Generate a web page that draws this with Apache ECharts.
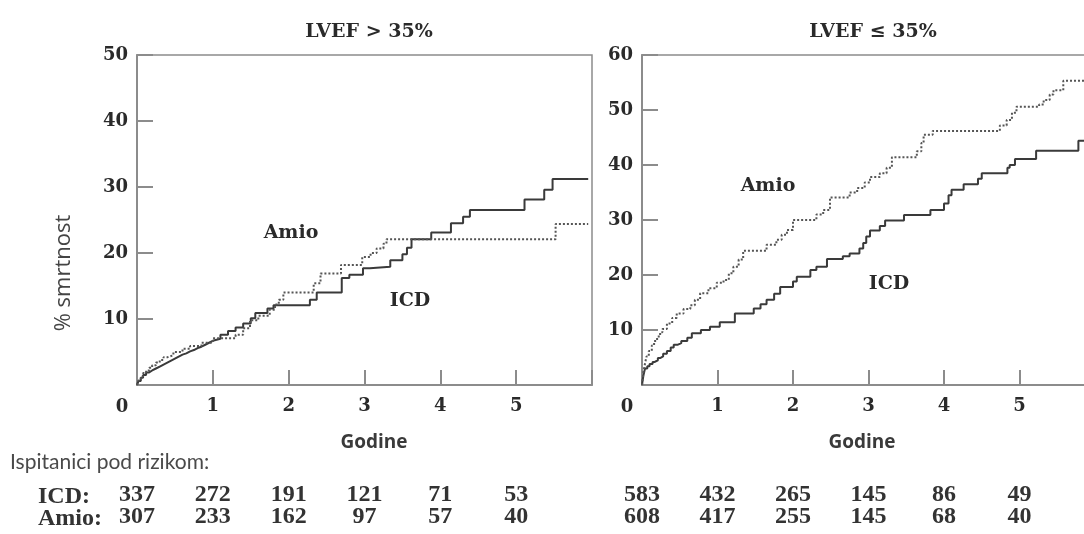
<!DOCTYPE html>
<html><head><meta charset="utf-8">
<script src="https://cdn.jsdelivr.net/npm/echarts@6/dist/echarts.min.js"></script>
<style>html,body{margin:0;padding:0;background:#fff}#c{width:1084px;height:534px}</style>
</head><body><div id="c"></div>
<script>
// ---- data ----
const panelTitles = ['LVEF > 35%', 'LVEF \u2264 35%'];
const yMaxLeft = 50, yMaxRight = 60;
const xYears = [0, 1, 2, 3, 4, 5, 6];
const riskLabel = 'Ispitanici pod rizikom:';
const rowNames = ['ICD:', 'Amio:'];
const riskIcdLeft = [337, 272, 191, 121, 71, 53];
const riskAmioLeft = [307, 233, 162, 97, 57, 40];
const riskIcdRight = [583, 432, 265, 145, 86, 49];
const riskAmioRight = [608, 417, 255, 145, 68, 40];

// Kaplan-Meier steps [years, % mortality]
const leftIcd = [[0,0],[0.02,0.6],[0.05,1.1],[0.08,1.5],[0.12,1.9],[0.16,2.2],[0.2,2.5],[0.25,2.8],[0.3,3.1],[0.35,3.4],[0.4,3.7],[0.45,4.0],[0.5,4.3],[0.55,4.6],[0.6,4.8],[0.65,5.1],[0.7,5.3],[0.75,5.6],[0.8,5.8],[0.85,6.1],[0.9,6.4],[0.95,6.7],[1.0,7.0],[1.1,7.6],[1.2,8.2],[1.3,8.7],[1.4,9.3],[1.5,10.1],[1.56,10.9],[1.72,11.6],[1.8,12.1],[2.28,12.9],[2.37,14.0],[2.7,16.2],[2.8,16.7],[2.98,17.7],[3.07,17.9],[3.34,18.9],[3.5,19.8],[3.56,20.8],[3.62,22.1],[3.88,23.1],[4.14,24.5],[4.3,25.5],[4.39,26.5],[5.11,28.1],[5.37,29.6],[5.48,31.2],[5.95,31.2]];
const leftAmio = [[0,0],[0.02,0.7],[0.05,1.3],[0.08,1.8],[0.12,2.2],[0.16,2.6],[0.2,3.0],[0.25,3.4],[0.3,3.8],[0.35,4.2],[0.4,4.5],[0.48,5.0],[0.6,5.5],[0.7,5.9],[0.85,6.4],[1.0,7.1],[1.3,7.6],[1.4,8.6],[1.49,9.8],[1.6,10.5],[1.75,11.4],[1.82,12.2],[1.87,12.9],[1.93,14.0],[2.33,15.4],[2.42,16.9],[2.69,18.2],[2.97,19.4],[3.08,20.0],[3.16,20.7],[3.25,21.4],[3.29,22.1],[5.52,24.4],[5.95,24.4]];
const rightIcd = [[0,0],[0.01,1.0],[0.02,1.8],[0.04,3.0],[0.07,3.4],[0.1,3.8],[0.14,4.2],[0.17,4.5],[0.21,4.9],[0.24,5.2],[0.28,5.7],[0.33,6.2],[0.38,6.8],[0.42,7.3],[0.47,7.6],[0.52,8.0],[0.6,8.6],[0.66,9.4],[0.78,10.0],[0.9,10.6],[1.03,11.4],[1.23,13.0],[1.48,13.9],[1.57,14.7],[1.65,15.5],[1.75,16.6],[1.83,17.8],[2.0,18.8],[2.05,19.7],[2.23,20.9],[2.31,21.5],[2.45,22.9],[2.66,23.4],[2.75,23.9],[2.88,24.8],[2.93,25.8],[2.97,27.0],[3.02,28.1],[3.15,28.9],[3.22,29.9],[3.47,30.9],[3.82,31.8],[4.0,33.0],[4.06,34.5],[4.1,35.5],[4.26,36.5],[4.45,37.5],[4.5,38.5],[4.84,39.5],[4.87,40.0],[4.94,41.1],[5.22,42.6],[5.78,44.4],[5.9,44.4]];
const rightAmio = [[0,0],[0.01,1.2],[0.02,2.5],[0.04,3.9],[0.06,5.2],[0.09,6.2],[0.13,7.2],[0.16,8.0],[0.2,8.8],[0.24,9.6],[0.27,10.2],[0.33,11.2],[0.4,12.2],[0.46,13.0],[0.55,13.8],[0.64,14.5],[0.7,15.5],[0.77,16.7],[0.88,17.6],[0.99,18.6],[1.08,19.1],[1.15,20.3],[1.21,21.5],[1.28,22.8],[1.34,24.4],[1.65,25.5],[1.78,26.4],[1.85,27.3],[1.92,28.2],[2.0,30.0],[2.31,31.0],[2.4,31.8],[2.49,34.1],[2.75,35.0],[2.85,35.8],[2.95,36.8],[3.02,37.8],[3.15,38.5],[3.24,39.5],[3.31,41.4],[3.64,42.5],[3.7,44.0],[3.73,45.5],[3.85,46.2],[4.74,47.2],[4.83,48.2],[4.9,49.5],[4.96,50.6],[5.26,51.0],[5.32,51.8],[5.4,52.8],[5.45,53.6],[5.58,55.3],[5.9,55.3]];

// ---- chart ----
const chart = echarts.init(document.getElementById('c'), null, {renderer: 'canvas'});
const serif = 'DejaVu Serif';
const tickFont = {fontFamily: serif, fontWeight: 'bold', fontSize: 18, color: '#2a2a2a'};
const axisGray = '#8c8c8c';

function xAxisMain(grid) {
  return {
    type: 'value', gridIndex: grid, min: 0, max: 6, interval: 1,
    axisLine: {show: true, lineStyle: {color: axisGray, width: 2}},
    axisTick: {show: true, inside: true, length: 15, lineStyle: {color: axisGray, width: 2}},
    axisLabel: Object.assign({margin: 12, formatter: v => (v === 0 || v === 6) ? '' : String(v)}, tickFont),
    splitLine: {show: false}
  };
}
function xAxisRisk(grid, icd, amio) {
  return {
    type: 'value', gridIndex: grid, min: 0, max: 6, interval: 1, position: 'bottom', offset: 96,
    axisLine: {show: false}, axisTick: {show: false}, splitLine: {show: false},
    axisLabel: {margin: 3, fontFamily: 'Liberation Serif', fontWeight: 'bold', fontSize: 24, color: '#333', lineHeight: 22,
      formatter: v => (v < icd.length) ? icd[v] + '\n' + amio[v] : ''}
  };
}
function yAxis(grid, max) {
  return {
    type: 'value', gridIndex: grid, min: 0, max: max, interval: 10,
    axisLine: {show: true, lineStyle: {color: axisGray, width: 2}},
    axisTick: {show: true, inside: true, length: 16, lineStyle: {color: axisGray, width: 2}},
    axisLabel: Object.assign({margin: 9, formatter: v => v === 0 ? '' : String(v)}, tickFont),
    splitLine: {show: false}
  };
}
function km(name, data, xi, yi, dotted) {
  return {
    name, type: 'line', step: 'end', data, xAxisIndex: xi, yAxisIndex: yi,
    symbol: 'none', animation: false, silent: true,
    lineStyle: {color: dotted ? '#555' : '#3a3a3a', width: 2, type: dotted ? 'dotted' : 'solid'}
  };
}

const labelText = (x, y, text, style) => ({type: 'text', x, y, style: Object.assign({text, align: 'center', verticalAlign: 'middle'}, style)});
const curveLabel = {fontFamily: serif, fontWeight: 'bold', fontSize: 19, fill: '#2a2a2a'};
const godine = {fontFamily: 'Open Sans', fontWeight: 'bold', fontSize: 19, fill: '#3a3a3a'};
const gridBase = {show: true, borderColor: axisGray, borderWidth: 1.5, outerBoundsMode: 'none', containLabel: false};

chart.setOption({
  animation: false,
  backgroundColor: '#fff',
  grid: [
    Object.assign({left: 137, top: 55, width: 455, height: 330}, gridBase),
    Object.assign({left: 642, top: 55, width: 453, height: 330}, gridBase)
  ],
  title: [
    {text: panelTitles[0], left: 364, top: 18, textAlign: 'center', textStyle: {fontFamily: serif, fontWeight: 'bold', fontSize: 19, color: '#2a2a2a'}},
    {text: panelTitles[1], left: 868, top: 18, textAlign: 'center', textStyle: {fontFamily: serif, fontWeight: 'bold', fontSize: 19, color: '#2a2a2a'}}
  ],
  xAxis: [xAxisMain(0), xAxisMain(1), xAxisRisk(0, riskIcdLeft, riskAmioLeft), xAxisRisk(1, riskIcdRight, riskAmioRight)],
  yAxis: [yAxis(0, yMaxLeft), yAxis(1, yMaxRight)],
  series: [
    km('ICD', leftIcd, 0, 0, false),
    km('Amio', leftAmio, 0, 0, true),
    km('ICD', rightIcd, 1, 1, false),
    km('Amio', rightAmio, 1, 1, true)
  ],
  graphic: [
    labelText(122, 407, '0', {fontFamily: serif, fontWeight: 'bold', fontSize: 18, fill: '#2a2a2a'}),
    labelText(627, 407, '0', {fontFamily: serif, fontWeight: 'bold', fontSize: 18, fill: '#2a2a2a'}),
    labelText(291, 233, 'Amio', curveLabel),
    labelText(410, 301, 'ICD', curveLabel),
    labelText(768, 186, 'Amio', curveLabel),
    labelText(889, 284, 'ICD', curveLabel),
    labelText(374, 443, 'Godine', godine),
    labelText(862, 443, 'Godine', godine),
    {type: 'text', x: 64, y: 273, rotation: Math.PI / 2, style: {text: '% smrtnost', align: 'center', verticalAlign: 'middle', fontFamily: 'Open Sans', fontSize: 22, fill: '#444'}},
    {type: 'text', x: 10, y: 462, style: {text: riskLabel, align: 'left', verticalAlign: 'middle', fontFamily: 'Lato', fontSize: 21, fill: '#4a4a4a'}},
    {type: 'text', x: 38, y: 497, style: {text: rowNames[0], align: 'left', verticalAlign: 'middle', fontFamily: 'Liberation Serif', fontWeight: 'bold', fontSize: 24, fill: '#333'}},
    {type: 'text', x: 38, y: 519, style: {text: rowNames[1], align: 'left', verticalAlign: 'middle', fontFamily: 'Liberation Serif', fontWeight: 'bold', fontSize: 24, fill: '#333'}}
  ]
});
</script>
</body></html>
